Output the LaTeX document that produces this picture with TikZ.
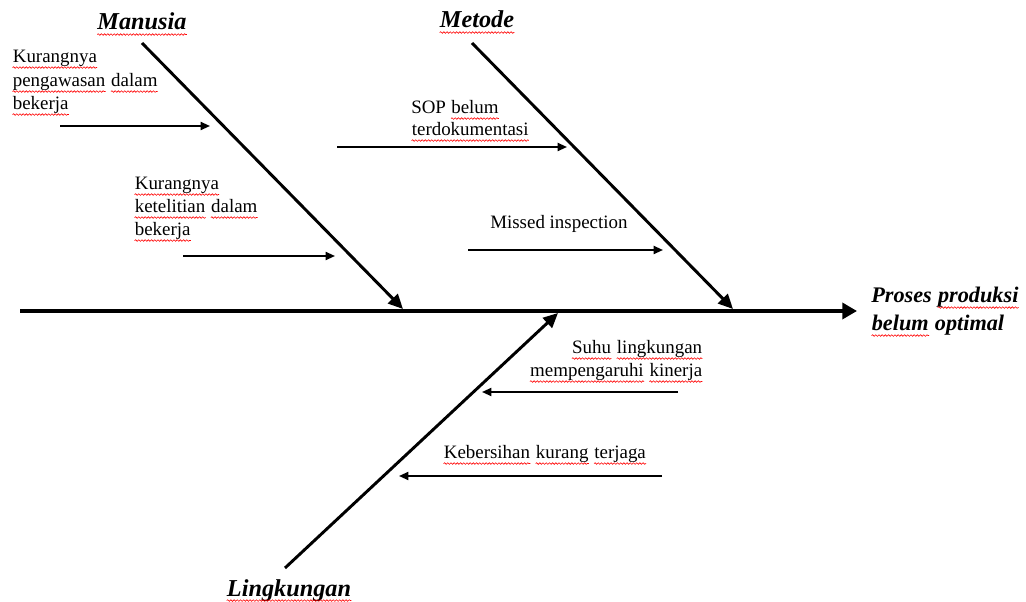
\documentclass[tikz,border=0pt]{standalone}
\usepackage{fontspec}
\setmainfont{Liberation Serif}
\usetikzlibrary{arrows.meta,decorations.pathmorphing}

% word with a red wavy underline
\newcommand\sw[1]{\tikz[baseline=(w.base),x=1pt,y=1pt]{%
  \node[inner sep=0pt,anchor=base] (w) at (0,0) {#1};
  \draw[red, line width=0.45pt, decorate,
        decoration={snake,amplitude=0.6pt,segment length=2.4pt}]
    ([yshift=-3.4pt]w.base west) -- ([yshift=-3.4pt]w.base east);}}

\begin{document}
\begin{tikzpicture}[x=0.75pt,y=-0.75pt,
  txt/.style={inner sep=0pt, font=\fontsize{14.2}{17}\selectfont},
  cat/.style={inner sep=0pt, font=\fontsize{18.2}{22}\selectfont\bfseries\itshape},
  effect/.style={inner sep=0pt, font=\fontsize{16.7}{20}\selectfont\bfseries\itshape},
  spine/.style={line width=2.6pt, -{Triangle[length=11pt,width=12pt]}},
  bone/.style={line width=2.2pt, -{Triangle[length=11pt,width=10pt]}},
  cause/.style={line width=1.4pt, -{Triangle[length=7pt,width=6pt]}}]
\useasboundingbox (0,0) rectangle (1026,602);

% spine
\coordinate (tail) at (20,311);
\coordinate (head) at (857,311);
\draw[spine] (tail) -- (head);

% main bones
\coordinate (m0) at (142,43);  \coordinate (m1) at (403,309);
\coordinate (d0) at (472,43);  \coordinate (d1) at (733,309);
\coordinate (l0) at (285,568); \coordinate (l1) at (558,313);
\draw[bone] (m0) -- (m1);
\draw[bone] (d0) -- (d1);
\draw[bone] (l0) -- (l1);

% category labels
\node[cat, anchor=base] (manusia) at (142,30) {\sw{Manusia}};
\node[cat, anchor=base] (metode) at (477,28) {\sw{Metode}};
\node[cat, anchor=base] (lingkungan) at (289,596) {\sw{Lingkungan}};

% effect
\node[effect, anchor=base west] (ef1) at (871,303) {Proses \sw{produksi}};
\node[effect, anchor=base west] (ef2) at (871,331) {\sw{belum} optimal};

% causes: Manusia
\node[txt, anchor=base west] (a1) at (12,63) {\sw{Kurangnya}};
\node[txt, anchor=base west] (a2) at (12,87) {\sw{pengawasan} \sw{dalam}};
\node[txt, anchor=base west] (a3) at (12,110) {\sw{bekerja}};
\coordinate (a0) at (60,126); \coordinate (ae) at (210,126);
\draw[cause] (a0) -- (ae);

\node[txt, anchor=base west] (b1) at (134,190) {\sw{Kurangnya}};
\node[txt, anchor=base west] (b2) at (134,213) {\sw{ketelitian} \sw{dalam}};
\node[txt, anchor=base west] (b3) at (134,236) {\sw{bekerja}};
\coordinate (b0) at (183,256); \coordinate (be) at (335,256);
\draw[cause] (b0) -- (be);

% causes: Metode
\node[txt, anchor=base west] (c1) at (411,114) {SOP \sw{belum}};
\node[txt, anchor=base west] (c2) at (411,136) {\sw{terdokumentasi}};
\coordinate (c0) at (337,147); \coordinate (ce) at (567,147);
\draw[cause] (c0) -- (ce);

\node[txt, anchor=base west] (e1) at (490,229) {Missed inspection};
\coordinate (e0) at (468,250); \coordinate (ee) at (663,250);
\draw[cause] (e0) -- (ee);

% causes: Lingkungan
\node[txt, anchor=base east] (f1) at (703,354) {\sw{Suhu} \sw{lingkungan}};
\node[txt, anchor=base east] (f2) at (703,377) {\sw{mempengaruhi} \sw{kinerja}};
\coordinate (f0) at (678,392); \coordinate (fe) at (482,392);
\draw[cause] (f0) -- (fe);

\node[txt, anchor=base west] (g1) at (443,459) {\sw{Kebersihan} \sw{kurang} \sw{terjaga}};
\coordinate (g0) at (662,476); \coordinate (ge) at (399,476);
\draw[cause] (g0) -- (ge);
\end{tikzpicture}
\end{document}
